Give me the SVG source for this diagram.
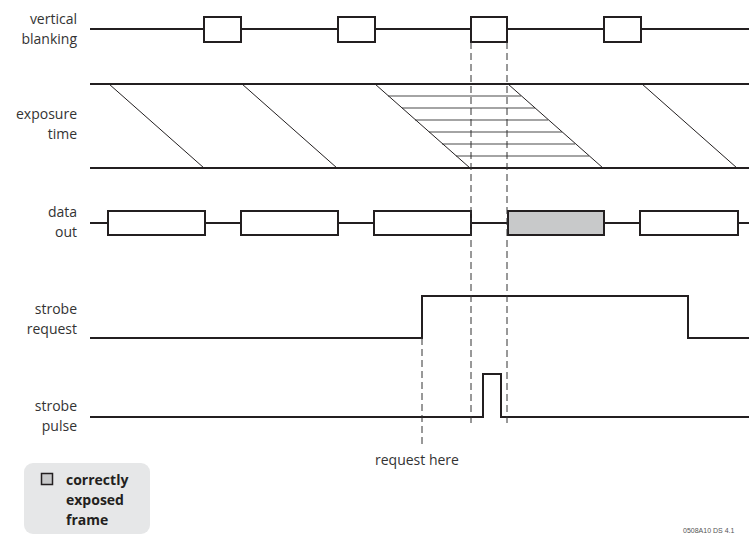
<svg xmlns="http://www.w3.org/2000/svg" width="749" height="535" viewBox="0 0 749 535">
<style>
.lbl{font-family:"Open Sans","DejaVu Sans",sans-serif;font-size:14px;fill:#333;text-anchor:end}
.sig{fill:none;stroke:#231f20;stroke-width:2}
.box{fill:#fff;stroke:#231f20;stroke-width:2}
.diag{stroke:#231f20;stroke-width:1;fill:none}
.hatch{stroke:#4a4a4a;stroke-width:1.2}
.dash{stroke:#333;stroke-width:1;stroke-dasharray:7 4;fill:none}
.leg{font-family:"Open Sans","DejaVu Sans",sans-serif;font-size:14px;font-weight:bold;fill:#231f20}
</style>
<rect width="749" height="535" fill="#fff"/>
<g id="vertical-blanking">
<text class="lbl" x="77" y="24">vertical</text>
<text class="lbl" x="77" y="44">blanking</text>
<line class="sig" x1="90" y1="29" x2="749" y2="29"/>
<rect class="box" x="204" y="17" width="37" height="25"/>
<rect class="box" x="338" y="17" width="37" height="25"/>
<rect class="box" x="471" y="17" width="36" height="25"/>
<rect class="box" x="604" y="17" width="37" height="25"/>
</g>
<g id="exposure-time">
<text class="lbl" x="77" y="119">exposure</text>
<text class="lbl" x="77" y="139">time</text>
<line class="hatch" x1="388" y1="96" x2="521" y2="96"/>
<line class="hatch" x1="402" y1="108" x2="535" y2="108"/>
<line class="hatch" x1="415" y1="120" x2="548" y2="120"/>
<line class="hatch" x1="429" y1="132" x2="562" y2="132"/>
<line class="hatch" x1="442" y1="144" x2="575" y2="144"/>
<line class="hatch" x1="456" y1="156" x2="589" y2="156"/>
<line class="sig" x1="90" y1="84" x2="749" y2="84"/>
<line class="sig" x1="90" y1="168" x2="749" y2="168"/>
<line class="diag" x1="109" y1="84" x2="204" y2="168"/>
<line class="diag" x1="242" y1="84" x2="337" y2="168"/>
<line class="diag" x1="375" y1="84" x2="470" y2="168"/>
<line class="diag" x1="508" y1="84" x2="603" y2="168"/>
<line class="diag" x1="642" y1="84" x2="737" y2="168"/>
</g>
<g id="data-out">
<text class="lbl" x="77" y="217">data</text>
<text class="lbl" x="77" y="237">out</text>
<line class="sig" x1="90" y1="223" x2="749" y2="223"/>
<rect class="box" x="108" y="211" width="97" height="24"/>
<rect class="box" x="241" y="211" width="97" height="24"/>
<rect class="box" x="374" y="211" width="97" height="24"/>
<rect class="box" x="508" y="211" width="96" height="24" style="fill:#c8c9ca"/>
<rect class="box" x="640" y="211" width="98" height="24"/>
</g>
<g id="strobe-request">
<text class="lbl" x="77" y="314">strobe</text>
<text class="lbl" x="77" y="334">request</text>
<polyline class="sig" points="90,338 422,338 422,296 688,296 688,338 749,338"/>
</g>
<g id="strobe-pulse">
<text class="lbl" x="77" y="411">strobe</text>
<text class="lbl" x="77" y="431">pulse</text>
<polyline class="sig" points="90,417 483,417 483,374 501,374 501,417 749,417"/>
</g>
<g id="connectors">
<line class="dash" x1="471" y1="42" x2="471" y2="423"/>
<line class="dash" x1="507" y1="42" x2="507" y2="423"/>
<line class="dash" x1="422" y1="338" x2="422" y2="447"/>
</g>
<g id="request-here">
<text x="375" y="465" style="font-family:'Open Sans','DejaVu Sans',sans-serif;font-size:14px;fill:#333">request here</text>
</g>
<g id="legend">
<rect x="24" y="463" width="126" height="71" rx="9" fill="#e6e7e8"/>
<rect x="41.5" y="473.5" width="11" height="11" fill="#c8c9ca" stroke="#231f20" stroke-width="1.5"/>
<text class="leg" x="66" y="485">correctly</text>
<text class="leg" x="66" y="505">exposed</text>
<text class="leg" x="66" y="525">frame</text>
</g>
<text x="683" y="533" style="font-family:'Liberation Sans',sans-serif;font-size:7px;fill:#555">0508A10 DS 4.1</text>
</svg>
